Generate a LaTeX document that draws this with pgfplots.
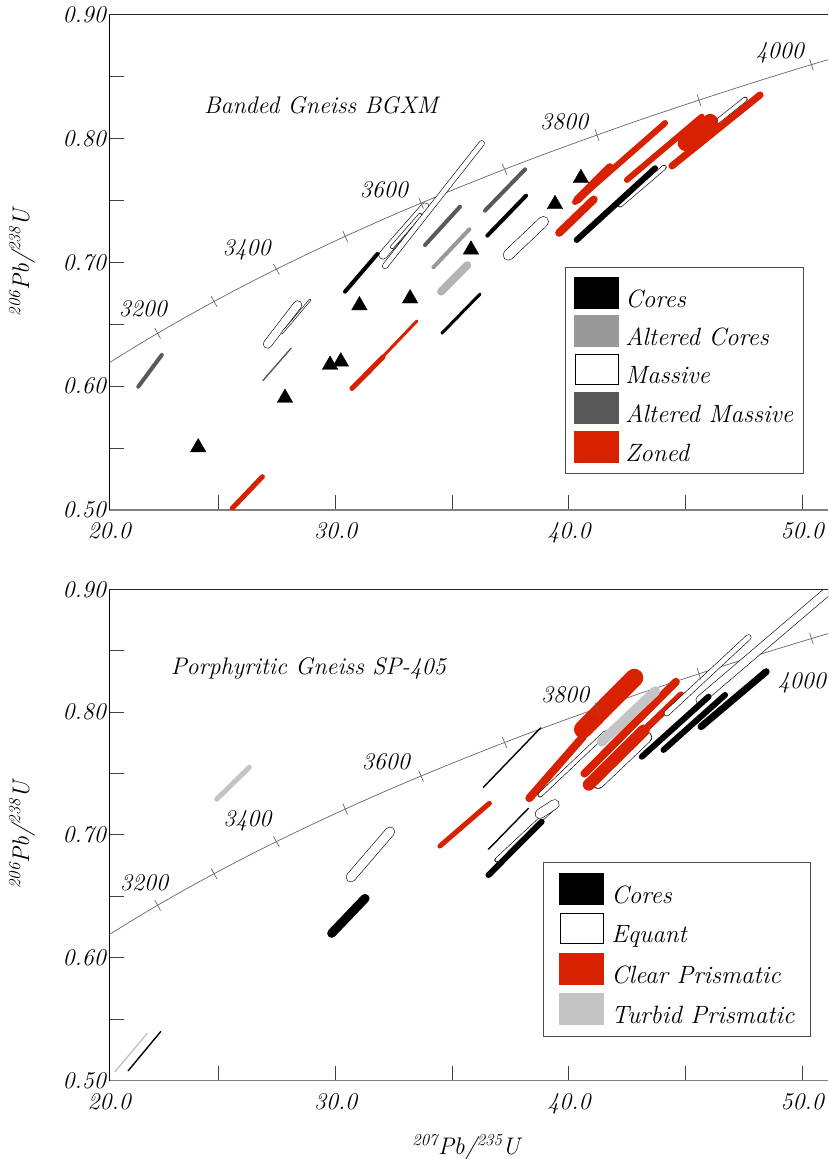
\documentclass[border=0pt]{standalone}
\usepackage{fontspec}
\usepackage{pgfplots}
\pgfplotsset{compat=1.18}
\definecolor{zred}{RGB}{216,33,0}
\definecolor{acore}{RGB}{153,153,153}
\definecolor{acorel}{RGB}{180,180,180}
\definecolor{amass}{RGB}{89,89,89}
\definecolor{turbid}{RGB}{196,196,196}
\newcommand{\bigf}{\itshape\fontsize{24}{28}\selectfont}
\newcommand{\legf}{\itshape\fontsize{25}{29}\selectfont}
\newcommand{\legent}[1]{#1\vphantom{Qdy}}
\pgfplotsset{
 fl/.style 2 args={draw=#1, line width=#2, line cap=round, line join=round, forget plot},
 ol/.style={draw=black, line width=0.6pt, double=white, double distance=#1, line cap=round, forget plot},
 conc/.style={draw=black!60, line width=0.7pt, smooth, forget plot},
 ctick/.style={only marks, mark=|, mark size=6pt, mark options={rotate=#1, draw=black!60, line width=0.7pt}, forget plot},
 panel/.style={scale only axis, width=718.7pt, xmin=20.3, xmax=51.1, ymin=0.5, ymax=0.9,
   axis x line*=bottom, axis y line*=left, tick align=inside, major tick length=15pt,
   xtick={20.3,25,30,35,40,45,50}, xticklabels={20.0,,30.0,,40.0,,50.0},
   ytick={0.5,0.55,0.6,0.65,0.7,0.75,0.8,0.85,0.9}, yticklabels={0.50,,0.60,,0.70,,0.80,,0.90},
   tick label style={font=\bigf}, label style={font=\bigf},
   xticklabel style={yshift=-9pt},
   x axis line style={draw=black!50, line width=1.6pt},
   y axis line style={draw=black, line width=1pt},
   tick style={draw=black!75, line width=1pt},
   ylabel={\textsuperscript{206}Pb/\textsuperscript{238}U},
   ylabel style={at={(axis description cs:-0.1215,0.5)}, anchor=center},
   legend style={font=\legf, draw=black!70, line width=1pt, cells={anchor=west},
     nodes={inner sep=1pt}},
   legend cell align=left,
 },
 sw/.style={legend image code/.code={\fill[#1] (0pt,-9.2pt) rectangle (44pt,21.8pt);}},
 swo/.style={legend image code/.code={\draw[black, line width=1pt, fill=white] (0.5pt,-8.7pt) rectangle (43.5pt,21.3pt);}},
}
\begin{document}
\begin{tikzpicture}
\path[use as bounding box] (0,0) rectangle (828pt,1159pt);
% ---------------- top panel ----------------
\begin{axis}[panel, height=495pt, at={(109.3pt,649pt)}, anchor=south west,
  legend style={at={(rel axis cs:0.634,0.4915)}, anchor=north west,
    inner xsep=9pt, inner ysep=9.5pt, row sep=5.7pt, column sep=5pt}]
\addlegendimage{sw=black}\addlegendentry{\legent{Cores}}
\addlegendimage{sw=acore}\addlegendentry{\legent{Altered Cores}}
\addlegendimage{swo}\addlegendentry{\legent{Massive}}
\addlegendimage{sw=amass}\addlegendentry{\legent{Altered Massive}}
\addlegendimage{sw=zred}\addlegendentry{\legent{Zoned}}
% concordia
\addplot[conc] coordinates {(19.16,0.6050) (20.18,0.6175) (21.25,0.6301) (22.37,0.6428) (23.55,0.6556) (24.79,0.6685) (26.09,0.6815) (27.46,0.6946) (28.90,0.7078) (30.41,0.7211) (31.99,0.7345) (33.66,0.7480) (35.41,0.7616) (37.24,0.7753) (39.17,0.7891) (41.20,0.8030) (43.33,0.8171) (45.57,0.8312) (47.92,0.8455) (50.39,0.8599) (52.98,0.8743)};
\addplot[ctick=29] coordinates {(22.37,0.6428) (24.79,0.6685) (27.46,0.6946)};
\addplot[ctick=23] coordinates {(30.41,0.7211) (33.66,0.7480) (37.24,0.7753)};
\addplot[ctick=18] coordinates {(41.20,0.8030) (45.57,0.8312) (50.39,0.8599)};
% massive
\addplot[ol=7.8pt] coordinates {(27.08,0.6341) (28.37,0.6657)};
\addplot[ol=1pt] coordinates {(27.69,0.6428) (28.90,0.6697)};
\addplot[ol=7.8pt] coordinates {(32.03,0.7061) (33.83,0.7448)};
\addplot[ol=2.8pt] coordinates {(32.42,0.7125) (33.62,0.7384)};
\addplot[ol=4.8pt] coordinates {(32.12,0.6972) (36.26,0.7963)};
\addplot[ol=9.8pt] coordinates {(37.40,0.7061) (38.90,0.7330)};
\addplot[ol=3.8pt] coordinates {(42.19,0.7465) (44.08,0.7769)};
\addplot[ol=3.8pt] coordinates {(46.26,0.8125) (47.55,0.8319)};
% altered massive
\addplot[fl={amass}{4pt}] coordinates {(21.54,0.5996) (22.55,0.6253)};
\addplot[fl={amass}{1.4pt}] coordinates {(26.88,0.6045) (28.09,0.6307)};
\addplot[fl={amass}{4pt}] coordinates {(33.83,0.7141) (35.33,0.7451)};
\addplot[fl={amass}{4pt}] coordinates {(36.40,0.7419) (38.12,0.7753)};
% altered cores
\addplot[fl={acore}{4pt}] coordinates {(34.19,0.6961) (35.73,0.7268)};
\addplot[fl={acorel}{8pt}] coordinates {(34.52,0.6765) (35.64,0.6978)};
% cores
\addplot[fl={black}{4pt}] coordinates {(30.40,0.6764) (31.79,0.7069)};
\addplot[fl={black}{3pt}] coordinates {(34.55,0.6428) (36.19,0.6745)};
\addplot[fl={black}{4pt}] coordinates {(36.50,0.7217) (38.16,0.7540)};
\addplot[fl={black}{6pt}] coordinates {(40.33,0.7182) (43.69,0.7761)};
% zoned
\addplot[fl={zred}{5pt}] coordinates {(25.57,0.5014) (26.86,0.5269)};
\addplot[fl={zred}{5pt}] coordinates {(30.70,0.5982) (32.03,0.6236)};
\addplot[fl={zred}{3pt}] coordinates {(31.07,0.6051) (33.48,0.6527)};
\addplot[fl={zred}{8pt}] coordinates {(40.35,0.7505) (41.75,0.7770)};
\addplot[fl={zred}{6pt}] coordinates {(40.26,0.7489) (44.12,0.8127)};
\addplot[fl={zred}{8pt}] coordinates {(39.58,0.7240) (41.06,0.7509)};
\addplot[fl={zred}{6pt}] coordinates {(42.48,0.7667) (45.69,0.8178)};
\addplot[fl={zred}{16pt}] coordinates {(45.00,0.7965) (46.05,0.8136)};
\addplot[fl={zred}{7pt}] coordinates {(44.41,0.7780) (48.19,0.8354)};
% triangles
\addplot[only marks, mark=triangle*, mark size=9pt, mark options={fill=black, draw=black}, forget plot] coordinates {(24.11,0.5505) (27.83,0.5905) (29.76,0.6172) (30.22,0.6199) (31.02,0.6653) (33.19,0.6709) (35.80,0.7103) (39.40,0.7471) (40.51,0.7681)};
% labels
\node[font=\bigf] at (axis cs:21.74,0.6624) {3200};
\node[font=\bigf] at (axis cs:26.19,0.7101) {3400};
\node[font=\bigf] at (axis cs:32.07,0.7586) {3600};
\node[font=\bigf] at (axis cs:39.79,0.8138) {3800};
\node[font=\bigf] at (axis cs:49.04,0.8693) {4000};
\node[font=\bigf] at (axis cs:29.37,0.8273) {Banded Gneiss BGXM};
\draw[black!85, line width=1pt] (rel axis cs:0,1) -- (rel axis cs:1,1);
\end{axis}
% ---------------- bottom panel ----------------
\begin{axis}[panel, height=491.4pt, at={(109.3pt,78.3pt)}, anchor=south west,
  xlabel={\textsuperscript{207}Pb/\textsuperscript{235}U},
  xlabel style={at={(axis description cs:0.4965,-0.136)}, anchor=center},
  legend style={at={(rel axis cs:0.604,0.4457)}, anchor=north west,
    inner xsep=15.5pt, inner ysep=10.5pt, row sep=7.5pt, column sep=6pt}]
\addlegendimage{sw=black}\addlegendentry{\legent{Cores}}
\addlegendimage{swo}\addlegendentry{\legent{Equant}}
\addlegendimage{sw=zred}\addlegendentry{\legent{Clear Prismatic}}
\addlegendimage{sw=turbid}\addlegendentry{\legent{Turbid Prismatic}}
\addplot[conc] coordinates {(19.16,0.6050) (20.18,0.6175) (21.25,0.6301) (22.37,0.6428) (23.55,0.6556) (24.79,0.6685) (26.09,0.6815) (27.46,0.6946) (28.90,0.7078) (30.41,0.7211) (31.99,0.7345) (33.66,0.7480) (35.41,0.7616) (37.24,0.7753) (39.17,0.7891) (41.20,0.8030) (43.33,0.8171) (45.57,0.8312) (47.92,0.8455) (50.39,0.8599) (52.98,0.8743)};
\addplot[ctick=29] coordinates {(22.37,0.6428) (24.79,0.6685) (27.46,0.6946)};
\addplot[ctick=23] coordinates {(30.41,0.7211) (33.66,0.7480) (37.24,0.7753)};
\addplot[ctick=18] coordinates {(41.20,0.8030) (45.57,0.8312) (50.39,0.8599)};
% equant under red
\addplot[ol=10.8pt] coordinates {(41.25,0.7425) (43.30,0.7795)};
% clear prismatic
\addplot[fl={zred}{5pt}] coordinates {(34.47,0.6910) (36.59,0.7258)};
\addplot[fl={zred}{8pt}] coordinates {(38.30,0.7300) (40.60,0.7800)};
\addplot[fl={zred}{18pt}] coordinates {(40.60,0.7860) (42.80,0.8280)};
\addplot[fl={zred}{8pt}] coordinates {(40.66,0.7500) (44.58,0.8247)};
\addplot[fl={zred}{12pt}] coordinates {(40.85,0.7410) (43.20,0.7850)};
\addplot[fl={zred}{7pt}] coordinates {(43.01,0.7814) (44.80,0.8140)};
% equant
\addplot[ol=8.8pt] coordinates {(30.65,0.6656) (32.33,0.7027)};
\addplot[ol=3.8pt] coordinates {(36.91,0.6796) (39.40,0.7236)};
\addplot[ol=8.8pt] coordinates {(38.75,0.7172) (39.38,0.7250)};
\addplot[ol=3.8pt] coordinates {(38.76,0.7326) (41.56,0.7830)};
\addplot[ol=4.8pt] coordinates {(44.19,0.7991) (47.69,0.8609)};
\addplot[ol=7.8pt] coordinates {(45.62,0.8099) (51.40,0.9035)};
% turbid
\addplot[fl={turbid}{1.4pt}] coordinates {(20.54,0.5073) (21.93,0.5386)};
\addplot[fl={turbid}{5pt}] coordinates {(24.90,0.7291) (26.30,0.7551)};
\addplot[fl={turbid}{10pt}] coordinates {(41.40,0.7760) (43.70,0.8170)};
% cores
\addplot[fl={black}{1.4pt}] coordinates {(21.11,0.5081) (22.50,0.5399)};
\addplot[fl={black}{9pt}] coordinates {(29.83,0.6200) (31.26,0.6484)};
\addplot[fl={black}{1.4pt}] coordinates {(36.33,0.7388) (38.79,0.7873)};
\addplot[fl={black}{1.4pt}] coordinates {(36.55,0.6884) (38.26,0.7217)};
\addplot[fl={black}{6pt}] coordinates {(36.55,0.6674) (38.83,0.7108)};
\addplot[fl={black}{6pt}] coordinates {(43.12,0.7637) (45.98,0.8126)};
\addplot[fl={black}{6pt}] coordinates {(44.05,0.7692) (46.69,0.8140)};
\addplot[fl={black}{7pt}] coordinates {(45.66,0.7882) (48.45,0.8329)};
% labels
\node[font=\bigf] at (axis cs:21.79,0.6613) {3200};
\node[font=\bigf] at (axis cs:26.22,0.7116) {3400};
\node[font=\bigf] at (axis cs:32.15,0.7597) {3600};
\node[font=\bigf] at (axis cs:39.83,0.8140) {3800};
\node[font=\bigf] at (axis cs:49.98,0.8235) {4000};
\node[font=\bigf] at (axis cs:28.83,0.8359) {Porphyritic Gneiss SP-405};
\draw[black!85, line width=1pt] (rel axis cs:0,1) -- (rel axis cs:1,1);
\end{axis}
\end{tikzpicture}
\end{document}
